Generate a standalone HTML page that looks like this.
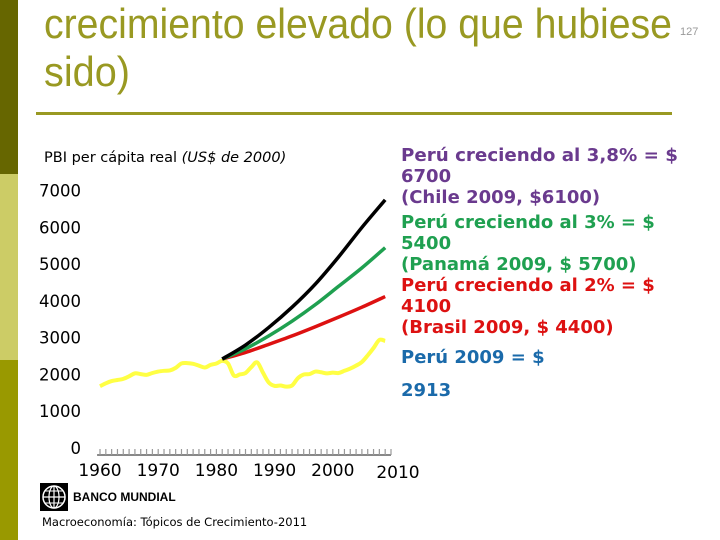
<!DOCTYPE html>
<html><head><meta charset="utf-8"><style>
body{margin:0;width:720px;height:540px;overflow:hidden;background:#fff}
svg{display:block}
</style></head><body>
<svg id="chart" width="720" height="540" viewBox="0 0 720 540" xmlns="http://www.w3.org/2000/svg">
<rect x="0" y="0" width="18" height="174" fill="#666600"/>
<rect x="0" y="174" width="18" height="186" fill="#cccc66"/>
<rect x="0" y="360" width="18" height="180" fill="#999900"/>
<g font-family="Liberation Sans, Arial, sans-serif" fill="#999922" font-size="42">
<text x="44" y="38" textLength="628" lengthAdjust="spacingAndGlyphs">crecimiento elevado (lo que hubiese</text>
<text x="44" y="86" textLength="86" lengthAdjust="spacingAndGlyphs">sido)</text>
</g>
<text x="680" y="35" font-family="Liberation Sans, sans-serif" font-size="11" fill="#999">127</text>
<rect x="36" y="112" width="636" height="3" fill="#999922"/>
<text x="44" y="162" font-family="DejaVu Sans, sans-serif" font-size="14.5" fill="#000">PBI per cápita real <tspan font-style="italic">(US$ de 2000)</tspan></text>
<g id="yaxis" font-family="DejaVu Sans, sans-serif" font-size="16.5" fill="#000" text-anchor="end"></g>
<g id="xaxis" font-family="DejaVu Sans, sans-serif" font-size="17" fill="#000" text-anchor="middle"></g>
<g id="series"></g>
<g font-family="DejaVu Sans, sans-serif" font-weight="bold" font-size="18">
<text x="401" y="161" fill="#6a3a8e" textLength="277" lengthAdjust="spacingAndGlyphs">Perú creciendo al 3,8% = $</text>
<text x="401" y="182" fill="#6a3a8e">6700</text>
<text x="401" y="203" fill="#6a3a8e">(Chile 2009, $6100)</text>
<text x="401" y="228" fill="#1fa050">Perú creciendo al 3% = $</text>
<text x="401" y="249" fill="#1fa050">5400</text>
<text x="401" y="270" fill="#1fa050">(Panamá 2009, $ 5700)</text>
<text x="401" y="291" fill="#dd1111">Perú creciendo al 2% = $</text>
<text x="401" y="312" fill="#dd1111">4100</text>
<text x="401" y="333" fill="#dd1111">(Brasil 2009, $ 4400)</text>
<text x="401" y="363" fill="#1a6aaa">Perú 2009 = $</text>
<text x="401" y="396" fill="#1a6aaa">2913</text>
</g>
<g>
<rect x="40" y="483" width="28" height="28" fill="#000"/>
<circle cx="54" cy="497" r="11" fill="none" stroke="#fff" stroke-width="1.5"/>
<ellipse cx="54" cy="497" rx="5" ry="11" fill="none" stroke="#fff" stroke-width="1.2"/>
<line x1="43" y1="497" x2="65" y2="497" stroke="#fff" stroke-width="1.2"/>
<line x1="54" y1="486" x2="54" y2="508" stroke="#fff" stroke-width="1.2"/>
<line x1="45" y1="491" x2="63" y2="491" stroke="#fff" stroke-width="1"/>
<line x1="45" y1="503" x2="63" y2="503" stroke="#fff" stroke-width="1"/>
</g>
<text x="73" y="501" font-family="Liberation Sans, sans-serif" font-weight="bold" font-size="12" fill="#000">BANCO MUNDIAL</text>
<text x="42" y="526" font-family="DejaVu Sans, sans-serif" font-size="11.5" fill="#000">Macroeconomía: Tópicos de Crecimiento-2011</text>
</svg>
<script>
const yTicks=[0,1000,2000,3000,4000,5000,6000,7000];
const xTickLabels=[1960,1970,1980,1990,2000,2010];
const peruYears=[1960,1961,1962,1963,1964,1965,1966,1967,1968,1969,1970,1971,1972,1973,1974,1975,1976,1977,1978,1979,1980,1981,1982,1983,1984,1985,1986,1987,1988,1989,1990,1991,1992,1993,1994,1995,1996,1997,1998,1999,2000,2001,2002,2003,2004,2005,2006,2007,2008,2009];
const peruGdp=[1680,1760,1820,1850,1880,1950,2030,2010,1990,2040,2080,2100,2110,2180,2300,2310,2290,2240,2190,2260,2300,2370,2300,1970,2000,2040,2200,2330,2050,1780,1690,1700,1670,1700,1900,2000,2010,2080,2060,2030,2050,2040,2100,2160,2240,2340,2520,2720,2940,2913];
const projYears=[1981,1985,1989,1993,1997,2001,2005,2009];
const proj38=[2420,2800,3280,3830,4460,5200,6000,6750];
const proj30=[2420,2700,3050,3450,3900,4400,4900,5450];
const proj20=[2420,2600,2820,3050,3300,3560,3830,4120];

const NS='http://www.w3.org/2000/svg';
const X=v=>100+(v-1960)*5.82;
const Y=v=>448-v*0.03676;
function mk(tag,attrs,parent){const e=document.createElementNS(NS,tag);for(const k in attrs)e.setAttribute(k,attrs[k]);parent.appendChild(e);return e;}
const ya=document.getElementById('yaxis');
yTicks.forEach(t=>{
  const e=mk('text',{x:81,y:Y(t)+6},ya);e.textContent=t;
  
  
});
const xa=document.getElementById('xaxis');
const axl=mk('line',{x1:X(1959.5),x2:X(2010),y1:455,y2:455,stroke:'#888','stroke-width':2},xa);


for(let yr=1960;yr<=2010;yr++){
  const tk=mk('line',{x1:X(yr),x2:X(yr),y1:449,y2:455,stroke:'#999','stroke-width':1.2},xa);
  
  
}
xTickLabels.forEach(t=>{
  const e=mk('text',{x:X(t)+(t===2010?7:0),y:t===2010?478:476},xa);e.textContent=t;
  
  
});
function smooth(xs,ys){
  const p=xs.map((x,i)=>[X(x),Y(ys[i])]);
  let d='M'+p[0][0]+','+p[0][1];
  for(let i=0;i<p.length-1;i++){
    const p0=p[i-1]||p[i],p1=p[i],p2=p[i+1],p3=p[i+2]||p2;
    const c1=[p1[0]+(p2[0]-p0[0])/6,p1[1]+(p2[1]-p0[1])/6];
    const c2=[p2[0]-(p3[0]-p1[0])/6,p2[1]-(p3[1]-p1[1])/6];
    d+=` C${c1[0]},${c1[1]} ${c2[0]},${c2[1]} ${p2[0]},${p2[1]}`;
  }
  return d;
}
const sg=document.getElementById('series');
const peru=mk('path',{d:smooth(peruYears,peruGdp),fill:'none',stroke:'#ffff44','stroke-width':4,'stroke-linejoin':'round'},sg);


const r=mk('path',{d:smooth(projYears,proj20),fill:'none',stroke:'#dd1111','stroke-width':3.5},sg);


const g=mk('path',{d:smooth(projYears,proj30),fill:'none',stroke:'#1fa050','stroke-width':3.5},sg);


const b=mk('path',{d:smooth(projYears,proj38),fill:'none',stroke:'#000','stroke-width':3.5},sg);


</script>
</body></html>
